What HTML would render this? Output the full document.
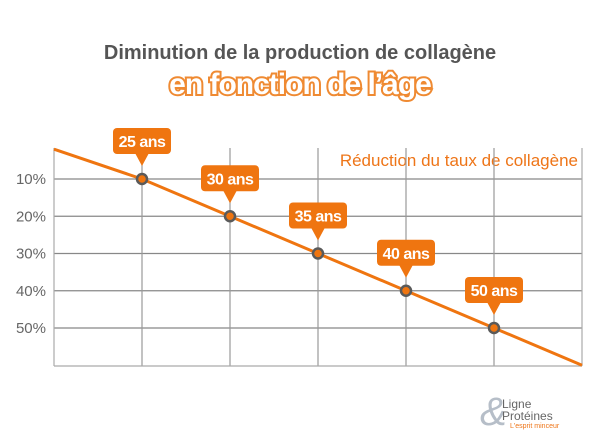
<!DOCTYPE html>
<html><head><meta charset="utf-8">
<style>
html,body{margin:0;padding:0;background:#fff;width:600px;height:433px;overflow:hidden;font-family:"Liberation Sans",sans-serif}
</style></head><body>
<svg width="600" height="433" viewBox="0 0 600 433" xmlns="http://www.w3.org/2000/svg">
<text x="300" y="59" text-anchor="middle" font-size="20" font-weight="bold" fill="#555">Diminution de la production de collagène</text>
<text x="300" y="94" text-anchor="middle" font-size="30" font-weight="900" fill="#ffffff" stroke="#ef8a32" stroke-width="4" paint-order="stroke" style="letter-spacing:-1px">en fonction de l’âge</text>
<text x="578" y="166" text-anchor="end" font-size="17" fill="#ee7518">Réduction du taux de collagène</text>
<g id="grid"></g>
<g id="marks"></g>
<text x="480" y="425" font-size="40" fill="#b6bec8" font-style="italic">&amp;</text>
</svg>
<script>
const categories=["25 ans","30 ans","35 ans","40 ans","50 ans"];
const values=[10,20,30,40,50];
const yTicks=[10,20,30,40,50];
const yTickLabels=["10%","20%","30%","40%","50%"];
const lineStartValue=2;
const lineEndValue=60;
const NS="http://www.w3.org/2000/svg";
const plotLeft=54,plotRight=582,plotBottom=366,plotTop=148;
const step=(plotRight-plotLeft)/(categories.length+1);
function xs(i){return plotLeft+step*(i+1);}
function ys(v){return 179+(v-10)*3.725;}
const grid=document.getElementById('grid'),marks=document.getElementById('marks');
function mk(tag,attrs,parent){const e=document.createElementNS(NS,tag);for(const k in attrs)e.setAttribute(k,attrs[k]);parent.appendChild(e);return e;}
yTicks.forEach((t,i)=>{
 const l=mk('line',{x1:plotLeft,x2:plotRight,y1:ys(t),y2:ys(t),stroke:'#888','stroke-width':1.2},grid);
 
 
 const tx=mk('text',{x:46,y:ys(t)+5,'text-anchor':'end','font-size':15,fill:'#666'},grid);
 tx.textContent=yTickLabels[i];
 
 
});
categories.forEach((c,i)=>{
 const l=mk('line',{x1:xs(i),x2:xs(i),y1:plotTop,y2:plotBottom,stroke:'#999','stroke-width':1.2},grid);
 
 
});
let a=mk('line',{x1:plotLeft,x2:plotLeft,y1:plotTop,y2:plotBottom,stroke:'#aaa','stroke-width':1.2},grid);


a=mk('line',{x1:plotRight,x2:plotRight,y1:plotTop,y2:plotBottom,stroke:'#aaa','stroke-width':1.2},grid);


a=mk('line',{x1:plotLeft,x2:plotRight,y1:plotBottom,y2:plotBottom,stroke:'#aaa','stroke-width':1.2},grid);


const pts=[[plotLeft,ys(lineStartValue)]].concat(values.map((v,i)=>[xs(i),ys(v)])).concat([[plotRight,ys(lineEndValue)]]);
const pl=mk('polyline',{points:pts.map(p=>p.join(',')).join(' '),fill:'none',stroke:'#ef7510','stroke-width':3},marks);


values.forEach((v,i)=>{
 const cx=xs(i),cy=ys(v);
 const p=mk('circle',{cx:cx,cy:cy,r:5,fill:'#ef7510',stroke:'#5a5a5a','stroke-width':2.5},marks);
 
 
 const g=mk('g',{},marks);
 
 
 const bw=58,bh=26,by=cy-51;
 mk('rect',{x:cx-bw/2,y:by,width:bw,height:bh,rx:4,fill:'#ef7510'},g);
 mk('polygon',{points:`${cx-7},${by+bh-1} ${cx+7},${by+bh-1} ${cx},${by+bh+12}`,fill:'#ef7510'},g);
 const t=mk('text',{x:cx,y:by+19,'text-anchor':'middle','font-size':16,'font-weight':'bold',fill:'#fff','letter-spacing':'-0.5'},g);
 t.textContent=categories[i];
});
</script>
<div style="position:absolute;left:502px;top:398px;font-size:12px;line-height:12px;color:#666;white-space:nowrap">
<div style="position:absolute;left:0;top:0">Ligne</div>
<div style="position:absolute;left:0;top:12px">Protéines</div>
<div style="position:absolute;left:8px;top:25px;font-size:7px;line-height:8px;color:#ee7518">L'esprit minceur</div>
</div>
</body></html>
